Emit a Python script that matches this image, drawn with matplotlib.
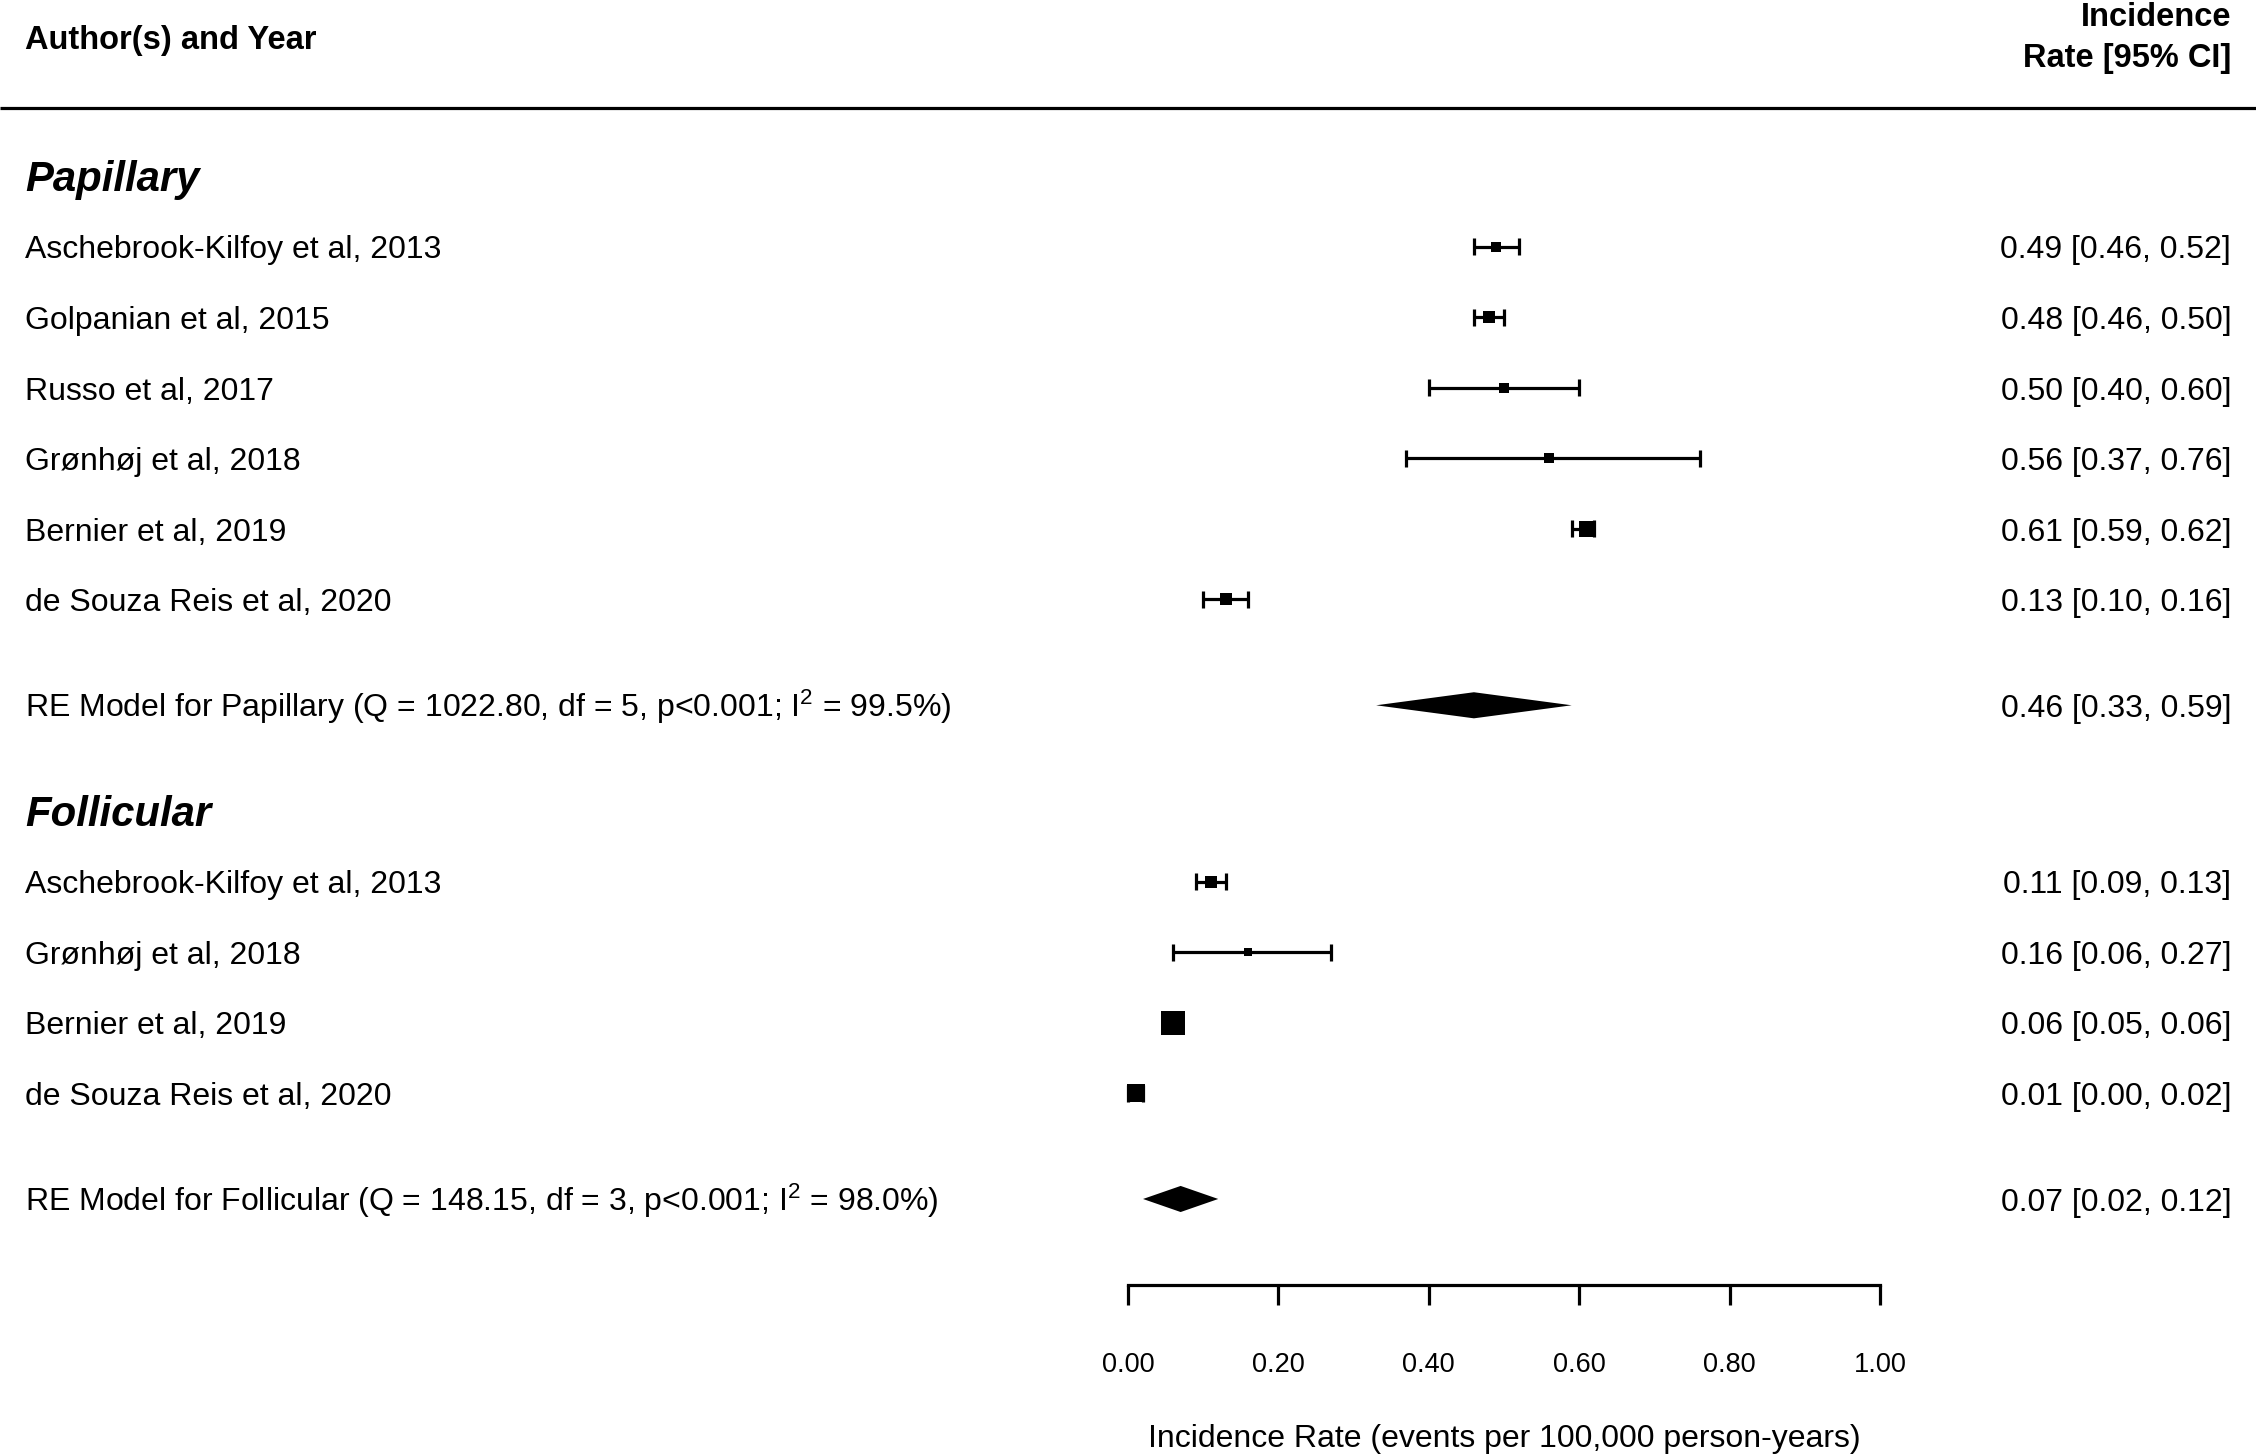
import numpy as np
import matplotlib
matplotlib.use("Agg")
import matplotlib.pyplot as plt

plt.rcParams['font.family'] = ['Liberation Sans', 'DejaVu Sans']
plt.rcParams['mathtext.fontset'] = 'custom'
plt.rcParams['mathtext.rm'] = 'Liberation Sans'
plt.rcParams['mathtext.it'] = 'Liberation Sans:italic'

# papillary studies
pap_names = ["Aschebrook-Kilfoy et al, 2013", "Golpanian et al, 2015", "Russo et al, 2017",
             "Grønhøj et al, 2018", "Bernier et al, 2019", "de Souza Reis et al, 2020"]
pap_est = [0.49, 0.48, 0.50, 0.56, 0.61, 0.13]
pap_lo = [0.46, 0.46, 0.40, 0.37, 0.59, 0.10]
pap_hi = [0.52, 0.50, 0.60, 0.76, 0.62, 0.16]
pap_w = [15, 18, 11, 11, 29, 16]
pap_re = (0.46, 0.33, 0.59)
pap_stats = "Q = 1022.80, df = 5, p<0.001; I$^2$ = 99.5%"

# follicular studies
fol_names = ["Aschebrook-Kilfoy et al, 2013", "Grønhøj et al, 2018", "Bernier et al, 2019",
             "de Souza Reis et al, 2020"]
fol_est = [0.11, 0.16, 0.06, 0.01]
fol_lo = [0.09, 0.06, 0.05, 0.00]
fol_hi = [0.13, 0.27, 0.06, 0.02]
fol_w = [20, 10, 72, 41]
fol_re = (0.07, 0.02, 0.12)
fol_stats = "Q = 148.15, df = 3, p<0.001; I$^2$ = 98.0%"

xticks = [0.0, 0.2, 0.4, 0.6, 0.8, 1.0]

groups = [("Papillary", pap_names, pap_est, pap_lo, pap_hi, pap_w, pap_re, pap_stats),
          ("Follicular", fol_names, fol_est, fol_lo, fol_hi, fol_w, fol_re, fol_stats)]

FS = 23
BL = 0.165  # baseline offset so text sits centred on the row
fig = plt.figure(figsize=(22.56, 14.55), dpi=100)
ax = fig.add_axes([0, 0, 1, 1])
ax.set_xlim(-1.5, 1.5)
ax.set_ylim(20.63, 0)
ax.axis('off')

xl, xr = -1.467, 1.467

def ci_text(e, l, h):
    return "%.2f [%.2f, %.2f]" % (e, l, h)

def label(x, y, s, ha='left', **kw):
    ax.text(x, y + BL, s, ha=ha, va='baseline', **kw)

# header
label(xl, 0.53, "Author(s) and Year", fontsize=FS + 0.5, fontweight='bold')
label(xr, 0.2, "Incidence", ha='right', fontsize=FS + 0.5, fontweight='bold')
label(xr, 0.78, "Rate [95% CI]", ha='right', fontsize=FS + 0.5, fontweight='bold')
ax.plot([-1.5, 1.5], [1.53, 1.53], color='black', lw=2.3, solid_capstyle='butt')

y = 2.5
for title, names, est, lo, hi, w, re, stats in groups:
    ax.text(xl, y + 0.21, title, fontsize=FS * 1.31, fontweight='bold', style='italic',
            ha='left', va='baseline')
    y += 1
    for n, e, l, h, wt in zip(names, est, lo, hi, w):
        ax.plot([l, h], [y, y], color='black', lw=2.3, solid_capstyle='butt')
        for c in (l, h):
            ax.plot([c, c], [y - 0.12, y + 0.12], color='black', lw=2.3, solid_capstyle='butt')
        side = 2.8 * np.sqrt(wt) * 0.72
        ax.plot([e], [y], marker='s', ms=side, color='black', mec='black', mew=0)
        label(xl, y, n, fontsize=FS)
        label(xr, y, ci_text(e, l, h), ha='right', fontsize=FS)
        y += 1
    y += 0.5
    e, l, h = re
    ax.fill([l, e, h, e], [y, y - 0.185, y, y + 0.185], color='black', lw=0)
    label(xl, y, "RE Model for %s (%s)" % (title, stats), fontsize=FS)
    label(xr, y, ci_text(e, l, h), ha='right', fontsize=FS)
    y += 1.5

# x axis
ya = y - 1.5 + 1.22
ax.plot([xticks[0], xticks[-1]], [ya, ya], color='black', lw=2.3, solid_capstyle='projecting')
for t in xticks:
    ax.plot([t, t], [ya, ya + 0.29], color='black', lw=2.3, solid_capstyle='butt')
    ax.text(t, ya + 1.09 + 0.14, "%.2f" % t, fontsize=19.5, ha='center', va='baseline')
ax.text(0.5, ya + 2.13 + BL, "Incidence Rate (events per 100,000 person-years)", fontsize=FS,
        ha='center', va='baseline')

fig.savefig("out.png", dpi=100)
